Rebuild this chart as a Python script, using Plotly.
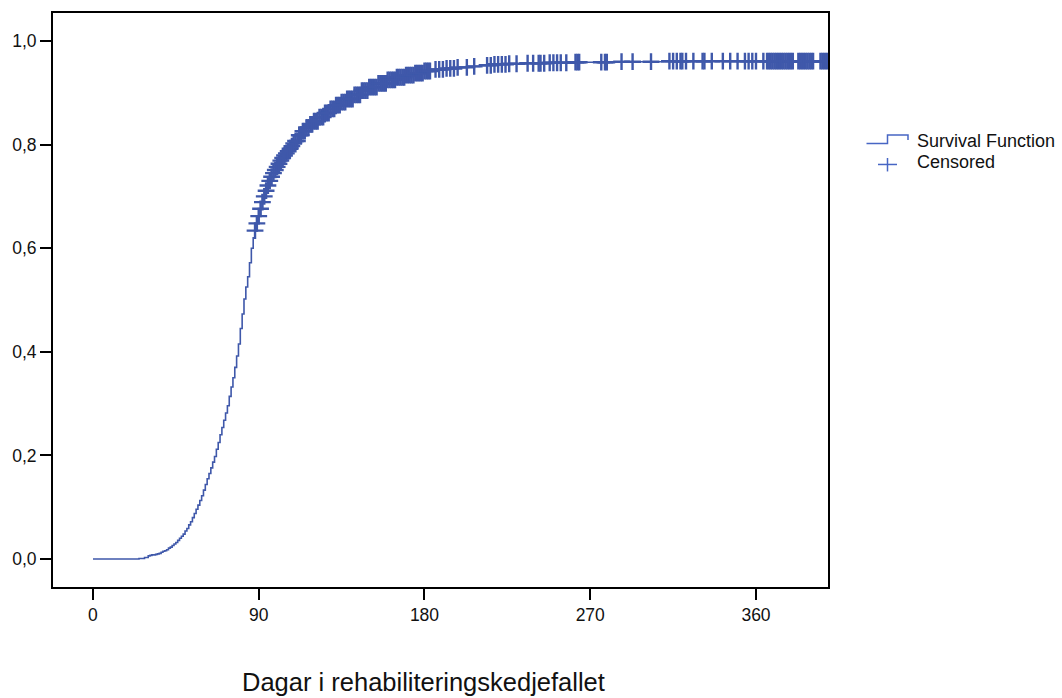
import numpy as np
import plotly.graph_objects as go

# step curve (day -> cumulative proportion)
curve_days = [
    0, 20, 25, 28,
    30, 31, 32, 33, 34, 35, 36, 37, 38, 39, 40, 41, 42, 43, 44, 45, 46, 47, 48, 49,
    50, 51, 52, 53, 54, 55, 56, 57, 58, 59, 60, 61, 62, 63, 64, 65, 66, 67, 68, 69,
    70, 71, 72, 73, 74, 75, 76, 77, 78, 79, 80, 81, 82, 83, 84, 85, 86, 87, 88, 89,
    90, 91, 92, 93, 94, 95, 96, 97, 98, 99, 100, 101, 102, 103, 104, 105, 106, 107,
    108, 109, 110, 112, 114, 116, 118, 120, 123, 126, 129, 132, 135, 138, 142, 146,
    150, 155, 160, 165, 170, 175, 180, 186, 192, 198, 204, 210, 218, 226, 236, 248,
    262, 280, 310, 420,
]
curve_values = [
    0.000, 0.000, 0.001, 0.003,
    0.006, 0.007, 0.008, 0.008, 0.009, 0.010, 0.011, 0.013, 0.015, 0.016, 0.018, 0.021,
    0.023, 0.026, 0.029, 0.032, 0.036, 0.040, 0.044, 0.048,
    0.054, 0.059, 0.066, 0.072, 0.080, 0.088, 0.096, 0.104, 0.113, 0.122, 0.133, 0.144,
    0.155, 0.165, 0.176, 0.187, 0.198, 0.212, 0.225, 0.240,
    0.254, 0.268, 0.282, 0.296, 0.314, 0.332, 0.350, 0.370, 0.392, 0.415, 0.445, 0.473,
    0.502, 0.525, 0.545, 0.572, 0.600, 0.620, 0.634, 0.648,
    0.662, 0.676, 0.689, 0.700, 0.711, 0.721, 0.730, 0.738, 0.745, 0.751, 0.757, 0.763,
    0.769, 0.774, 0.779, 0.783, 0.787, 0.792,
    0.797, 0.802, 0.807, 0.818, 0.826, 0.833, 0.839, 0.845, 0.853, 0.861, 0.869, 0.876,
    0.882, 0.888, 0.896, 0.904,
    0.911, 0.918, 0.925, 0.930, 0.934, 0.938, 0.942, 0.945, 0.947, 0.949, 0.951, 0.953,
    0.955, 0.956, 0.957, 0.958,
    0.959, 0.960, 0.961, 0.961,
]

# days with censored cases (the "+" marks)
censored_days = [
    88, 89, 90, 91, 92, 93, 94, 95, 96, 97, 98, 99, 100, 101, 102, 103, 104, 105, 106,
    107, 108, 109, 110, 111, 112, 113, 114, 115, 116, 117, 118, 119, 120, 121, 122, 123,
    124, 125, 126, 127, 128, 129, 130, 131, 132, 133, 134, 135, 136, 137, 138, 139, 140,
    141, 142, 143, 144, 145, 146, 147, 148, 149, 150, 151, 152, 153, 154, 155, 156, 157,
    158, 159, 160, 161, 162, 163, 164, 165, 166, 167, 168, 169, 170, 171, 172, 173, 174,
    175, 176, 177, 178, 179, 180, 181, 182, 183,
    186, 188, 190, 192, 194, 196, 198, 203, 207, 214, 216, 218, 220, 222, 224, 226, 230,
    236, 239, 242, 243, 245, 248, 250, 252, 254, 257, 262, 263, 264, 276, 278, 279, 287,
    293, 303, 313, 315, 317, 319, 320, 322, 326, 331, 332, 336, 342, 346, 350, 354, 356,
    358, 360, 364, 366, 367, 368, 369, 370, 371, 372, 373, 374, 375, 376, 377, 378, 379,
    380, 383, 384, 385, 386, 387, 388, 389, 390, 391, 395, 396, 397, 398, 399,
]

x_ticks = [0, 90, 180, 270, 360]
y_ticks = [0.0, 0.2, 0.4, 0.6, 0.8, 1.0]
y_tick_labels = ["0,0", "0,2", "0,4", "0,6", "0,8", "1,0"]

BLUE = "#3f58aa"
LEGEND_BLUE = "#4766c4"
FONT = "Liberation Sans, Arial, sans-serif"

# plot area in pixels
W, H = 1062, 698
L, R, T, B = 53, 828, 11, 587


def px_x(px):
    return (px - L) / (R - L)


def px_y(py):
    return (B - py) / (B - T)


# value of the step curve at each censored day
idx = np.searchsorted(curve_days, censored_days, side="right") - 1
censored_values = [curve_values[i] for i in idx]

fig = go.Figure()
fig.add_trace(
    go.Scatter(
        x=curve_days,
        y=curve_values,
        mode="lines",
        line=dict(color=BLUE, width=1.6, shape="hv"),
        hoverinfo="skip",
    )
)
fig.add_trace(
    go.Scatter(
        x=censored_days,
        y=censored_values,
        mode="markers",
        marker=dict(symbol="cross-thin", size=12, line=dict(color=BLUE, width=2.4)),
        hoverinfo="skip",
    )
)

# legend drawn by hand: step glyph and "+" glyph
step_path = "M {} {} L {} {} L {} {} L {} {} L {} {}".format(
    px_x(866.5), px_y(142), px_x(887.5), px_y(142), px_x(887.5), px_y(133.5),
    px_x(908), px_y(133.5), px_x(908), px_y(138.5),
)
shapes = [
    dict(type="path", xref="paper", yref="paper", path=step_path,
         line=dict(color=LEGEND_BLUE, width=1.5)),
    dict(type="line", xref="paper", yref="paper",
         x0=px_x(878), x1=px_x(897), y0=px_y(163), y1=px_y(163),
         line=dict(color=LEGEND_BLUE, width=1.5)),
    dict(type="line", xref="paper", yref="paper",
         x0=px_x(887.5), x1=px_x(887.5), y0=px_y(156.5), y1=px_y(170),
         line=dict(color=LEGEND_BLUE, width=1.5)),
]
annotations = [
    dict(text="Survival Function", x=px_x(915), y=px_y(139.5), xref="paper", yref="paper",
         xanchor="left", yanchor="middle", showarrow=False,
         font=dict(family=FONT, size=18, color="#111")),
    dict(text="Censored", x=px_x(915), y=px_y(160.5), xref="paper", yref="paper",
         xanchor="left", yanchor="middle", showarrow=False,
         font=dict(family=FONT, size=18, color="#111")),
    dict(text="Dagar i rehabiliteringskedjefallet", x=px_x(423), y=px_y(682),
         xref="paper", yref="paper", xanchor="center", yanchor="middle",
         showarrow=False, font=dict(family=FONT, size=25.5, color="#111")),
]

fig.update_layout(
    width=W,
    height=H,
    autosize=False,
    margin=dict(l=L, r=W - R, t=T, b=H - B, pad=0),
    paper_bgcolor="white",
    plot_bgcolor="white",
    showlegend=False,
    shapes=shapes,
    annotations=annotations,
    font=dict(family=FONT, size=17.5, color="#111"),
)
fig.update_xaxes(
    range=[-21.7, 399.1],
    tickvals=x_ticks,
    ticks="outside",
    ticklen=11,
    tickwidth=2,
    tickcolor="black",
    showline=True,
    linewidth=2,
    linecolor="black",
    mirror=True,
    showgrid=False,
    zeroline=False,
)
fig.update_yaxes(
    range=[-0.054, 1.054],
    tickvals=y_ticks,
    ticktext=y_tick_labels,
    ticks="outside",
    ticklen=11,
    tickwidth=2,
    tickcolor="black",
    showline=True,
    linewidth=2,
    linecolor="black",
    mirror=True,
    showgrid=False,
    zeroline=False,
)

# drop the browser's default body margin so the figure sits at the page corner
fig.write_html(
    "out.html",
    config={"displayModeBar": False},
    post_script="document.body.style.margin='0';document.body.style.overflow='hidden';",
)
